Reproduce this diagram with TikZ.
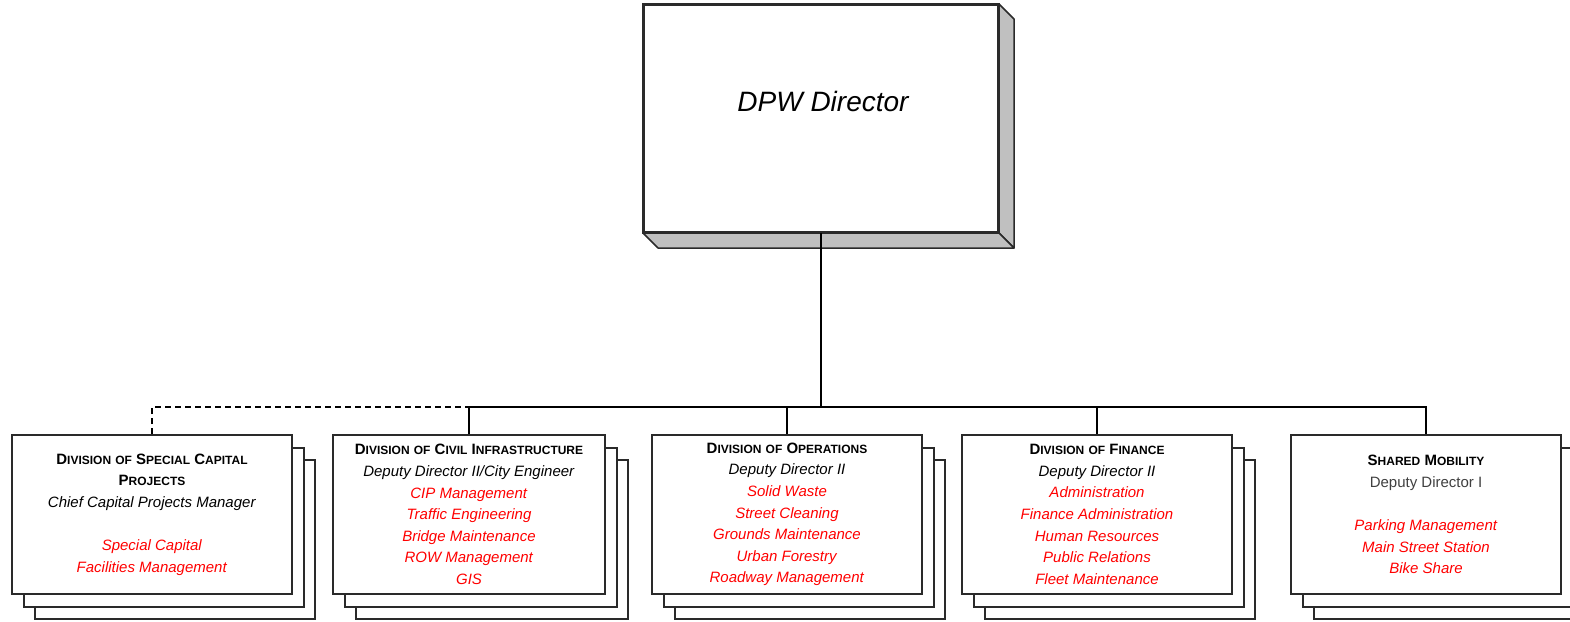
\documentclass[tikz,border=0pt]{standalone}
\usepackage{fontspec}
\setmainfont{Liberation Sans}
\usetikzlibrary{calc}
\definecolor{facegray}{HTML}{C0C0C0}
\definecolor{boxline}{HTML}{2A2A2A}
\newcommand\hc[2]{{\fontsize{15}{21.6}\selectfont #1}{\fontsize{12}{21.6}\selectfont #2}}
\newcommand\hs[1]{{\fontsize{12}{21.6}\selectfont #1}}
\newcommand\rl[1]{\textcolor{red}{\textit{#1}}}
\tikzset{
  front/.style={draw=boxline, line width=2pt, fill=white, inner sep=0pt, align=center,
    font=\fontsize{15}{21.6}\selectfont},
  backbox/.style={draw=boxline, line width=2pt, fill=white},
  face/.style={draw=boxline, line width=1.5pt, fill=facegray, line join=round},
  conn/.style={line width=2pt, black},
  dashconn/.style={line width=2pt, black, dash pattern=on 6pt off 4pt},
}
\newcommand\stack[1]{%
  \draw[backbox] ($(#1.north west)+(23,25)$) rectangle ($(#1.south east)+(23,25)$);
  \draw[backbox] ($(#1.north west)+(12,13)$) rectangle ($(#1.south east)+(12,13)$);
}
\begin{document}
\begin{tikzpicture}[x=1pt,y=-1pt]
\useasboundingbox (0,0) rectangle (1570,621);
\fill[white] (0,0) rectangle (1570,621);

% Director box with 3D faces
\node[draw=boxline, line width=2pt, fill=white, minimum width=354pt, minimum height=227pt, inner sep=0pt] (dir) at (821,118.5) {};
\draw[face] (dir.north east) -- ++(15,15) -- ($(dir.south east)+(15,15)$) -- (dir.south east) -- cycle;
\draw[face] (dir.south west) -- (dir.south east) -- ($(dir.south east)+(15,15)$) -- ($(dir.south west)+(15,15)$) -- cycle;
\draw[boxline, line width=2pt] (dir.north west) rectangle (dir.south east);
\node[font=\fontsize{28}{30}\selectfont\itshape] (dirlabel) at (823,101) {DPW Director};

\path (152,514.5) coordinate (c1) (469,514.5) coordinate (c2) (787,514.5) coordinate (c3)
      (1097,514.5) coordinate (c4) (1426,514.5) coordinate (c5);
\node[minimum width=280pt, minimum height=159pt, inner sep=0pt] (b1) at (c1) {};
\node[minimum width=272pt, minimum height=159pt, inner sep=0pt] (b2) at (c2) {};
\node[minimum width=270pt, minimum height=159pt, inner sep=0pt] (b3) at (c3) {};
\node[minimum width=270pt, minimum height=159pt, inner sep=0pt] (b4) at (c4) {};
\node[minimum width=270pt, minimum height=159pt, inner sep=0pt] (b5) at (c5) {};
\stack{b1}\stack{b2}\stack{b3}\stack{b4}\stack{b5}

\node[front, minimum width=280pt, minimum height=159pt] (f1) at (c1) {%
\textbf{\hc{D}{IVISION} \hs{OF} \hc{S}{PECIAL} \hc{C}{APITAL}}\\
\textbf{\hc{P}{ROJECTS}}\\
\textit{Chief Capital Projects Manager}\\[21.6pt]
\rl{Special Capital}\\
\rl{Facilities Management}};

\node[front, minimum width=272pt, minimum height=159pt] (f2) at (c2) {%
\textbf{\hc{D}{IVISION} \hs{OF} \hc{C}{IVIL} \hc{I}{NFRASTRUCTURE}}\\
\textit{Deputy Director II/City Engineer}\\
\rl{CIP Management}\\
\rl{Traffic Engineering}\\
\rl{Bridge Maintenance}\\
\rl{ROW Management}\\
\rl{GIS}};

\node[front, minimum width=270pt, minimum height=159pt] (f3) at (c3) {%
\textbf{\hc{D}{IVISION} \hs{OF} \hc{O}{PERATIONS}}\\
\textit{Deputy Director II}\\
\rl{Solid Waste}\\
\rl{Street Cleaning}\\
\rl{Grounds Maintenance}\\
\rl{Urban Forestry}\\
\rl{Roadway Management}};

\node[front, minimum width=270pt, minimum height=159pt] (f4) at (c4) {%
\textbf{\hc{D}{IVISION} \hs{OF} \hc{F}{INANCE}}\\
\textit{Deputy Director II}\\
\rl{Administration}\\
\rl{Finance Administration}\\
\rl{Human Resources}\\
\rl{Public Relations}\\
\rl{Fleet Maintenance}};

\node[front, minimum width=270pt, minimum height=159pt] (f5) at (c5) {%
\textbf{\hc{S}{HARED} \hc{M}{OBILITY}}\\
\textcolor{black!75}{Deputy Director I}\\[21.6pt]
\rl{Parking Management}\\
\rl{Main Street Station}\\
\rl{Bike Share}};

% Connectors
\coordinate (bus) at (821,407);
\draw[conn] (dir.south) -- (bus);
\draw[conn] (f2.north) -- (f2.north |- bus) -- (f5.north |- bus) -- (f5.north);
\draw[conn] (f3.north) -- (f3.north |- bus);
\draw[conn] (f4.north) -- (f4.north |- bus);
\draw[dashconn] (f1.north) -- (f1.north |- bus) -- (f2.north |- bus);
\end{tikzpicture}
\end{document}
